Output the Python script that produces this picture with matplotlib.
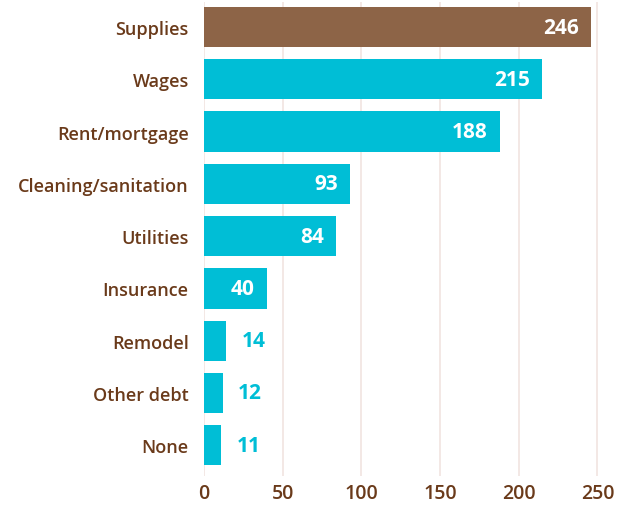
import matplotlib.pyplot as plt

plt.rcParams['font.family'] = ['Open Sans', 'DejaVu Sans']

categories = ["Supplies", "Wages", "Rent/mortgage", "Cleaning/sanitation", "Utilities",
              "Insurance", "Remodel", "Other debt", "None"]
values = [246, 215, 188, 93, 84, 40, 14, 12, 11]
xticks = [0, 50, 100, 150, 200, 250]

brown = "#8d6447"
cyan = "#00bed6"
text_brown = "#6a3a1a"

fig = plt.figure(figsize=(6.29, 5.06), dpi=100)
ax = fig.add_axes([204 / 629, 29 / 506, 406 / 629, 474 / 506])

colors = [brown] + [cyan] * (len(values) - 1)
y = list(range(len(categories)))
ax.barh(y, values, height=0.77, color=colors, zorder=2)

for i, v in enumerate(values):
    if v >= 30:
        ax.annotate(str(v), (v, i), xytext=(-9, 0), textcoords="offset points",
                    ha="right", va="center", color="white", fontsize=15, fontweight="bold")
    else:
        ax.annotate(str(v), (v, i), xytext=(11, 0), textcoords="offset points",
                    ha="left", va="center", color=cyan, fontsize=15, fontweight="bold")

ax.set_xlim(0, 258)
ax.set_ylim(8.59, -0.48)
ax.set_yticks(y)
ax.set_yticklabels(categories, fontsize=13, color=text_brown, fontweight="semibold")
ax.set_xticks(xticks)
ax.set_xticklabels([str(t) for t in xticks], fontsize=14, color=text_brown, fontweight="semibold")
ax.tick_params(axis="both", length=0)
ax.tick_params(axis="y", pad=11)
ax.tick_params(axis="x", pad=5)
ax.grid(axis="x", color="#f1e4e0", linewidth=1.2, zorder=0)
for s in ax.spines.values():
    s.set_visible(False)

fig.savefig("out.png", dpi=100)
